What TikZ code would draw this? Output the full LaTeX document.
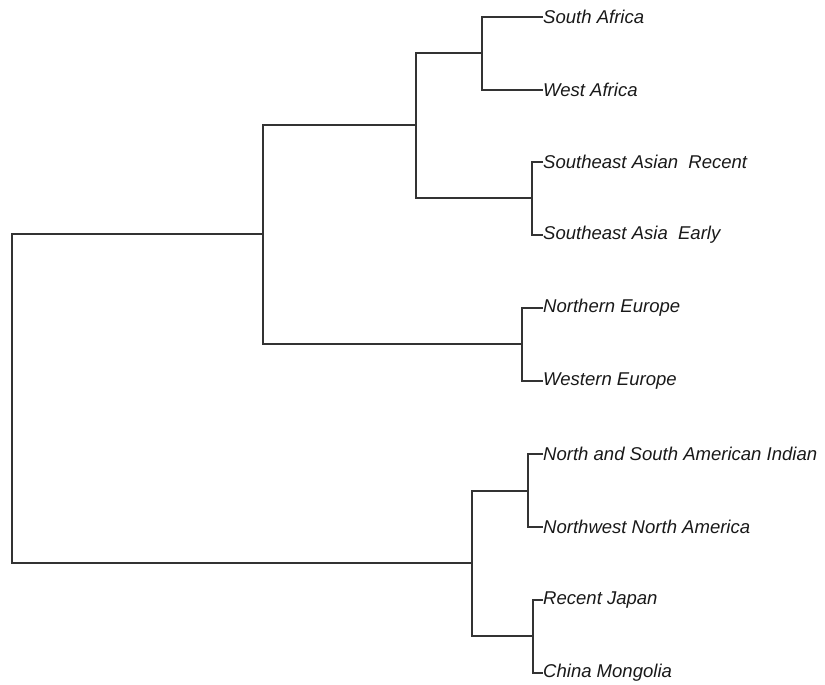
\documentclass[tikz,border=0pt]{standalone}
\usepackage{fontspec}
\setmainfont{Liberation Sans}
\begin{document}
\begin{tikzpicture}[x=1bp,y=-1bp,
  br/.style={draw=black!80,line width=1.3bp},
  leaf/.style={anchor=west,inner sep=0pt,font=\fontsize{18.6}{20}\selectfont\itshape,text=black!90}]
\useasboundingbox (0,0) rectangle (825,685);
% leaves
\node[leaf] (l1) at (543,17) {South Africa};
\node[leaf] (l2) at (543,90) {West Africa};
\node[leaf] (l3) at (543,162) {Southeast Asian\ \ Recent};
\node[leaf] (l4) at (543,235) {Southeast Asia\ \ Early};
\node[leaf] (l5) at (543,308) {Northern Europe};
\node[leaf] (l6) at (543,381) {Western Europe};
\node[leaf] (l7) at (543,454) {North and South American Indian};
\node[leaf] (l8) at (543,527) {Northwest North America};
\node[leaf] (l9) at (543,600) {Recent Japan};
\node[leaf] (l10) at (543,673) {China Mongolia};
% internal nodes
\coordinate (c) at (482,53);
\coordinate (d) at (532,198);
\coordinate (b) at (416,125);
\coordinate (e) at (522,344);
\coordinate (a) at (263,234);
\coordinate (f) at (528,491);
\coordinate (g) at (533,636);
\coordinate (h) at (472,563);
\coordinate (r) at (12,399);
% branches
\draw[br] (l1.west) -| (c) |- (l2.west);
\draw[br] (l3.west) -| (d) |- (l4.west);
\draw[br] (c) -| (b) |- (d);
\draw[br] (l5.west) -| (e) |- (l6.west);
\draw[br] (b) -| (a) |- (e);
\draw[br] (l7.west) -| (f) |- (l8.west);
\draw[br] (l9.west) -| (g) |- (l10.west);
\draw[br] (f) -| (h) |- (g);
\draw[br] (a) -| (r) |- (h);
\end{tikzpicture}
\end{document}
